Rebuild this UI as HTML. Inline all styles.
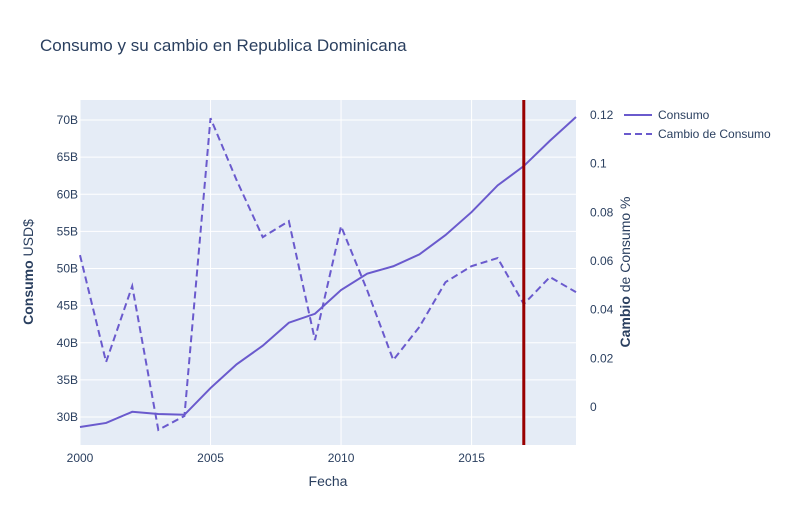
<!DOCTYPE html>
<html><head><meta charset="utf-8"><style>
body{margin:0;background:#fff;font-family:"Liberation Sans",sans-serif}
svg text{font-family:"Liberation Sans",sans-serif;fill:#2a3f5f}
</style></head><body>
<svg id="chart" width="800" height="525" xmlns="http://www.w3.org/2000/svg">
<rect width="800" height="525" fill="#fff"/>
<text x="40" y="51" font-size="17">Consumo y su cambio en Republica Dominicana</text>
<rect x="80" y="100" width="496" height="345" fill="#e5ecf6"/>
<g id="grid"></g><g id="axes"></g><g id="series"></g>
<text x="328" y="486" font-size="14" text-anchor="middle">Fecha</text>
<text transform="translate(33,272) rotate(-90)" font-size="14" text-anchor="middle"><tspan font-weight="bold">Consumo</tspan> USD$</text>
<text transform="translate(630,272) rotate(-90)" font-size="14" text-anchor="middle"><tspan font-weight="bold">Cambio</tspan> de Consumo %</text>
<g>
<g><line x1="624" y1="115" x2="652" y2="115" stroke="#6a5acd" stroke-width="2"/><text x="658" y="119" font-size="12">Consumo</text></g>
<g><line x1="624" y1="134" x2="652" y2="134" stroke="#6a5acd" stroke-width="2" stroke-dasharray="7,4"/><text x="658" y="138" font-size="12">Cambio de Consumo</text></g>
</g>
</svg>
<script>
const years=[2000,2001,2002,2003,2004,2005,2006,2007,2008,2009,2010,2011,2012,2013,2014,2015,2016,2017,2018,2019];
const consumo=[28.65,29.2,30.7,30.4,30.3,33.9,37.1,39.6,42.7,43.9,47.1,49.3,50.3,51.9,54.5,57.6,61.2,63.8,67.2,70.4];
const cambio=[0.0624,0.0185,0.0497,-0.0094,-0.0037,0.1187,0.0932,0.0698,0.0764,0.0275,0.0743,0.048,0.0193,0.0329,0.0513,0.0579,0.0612,0.0423,0.0534,0.0472];
const xTicks=[2000,2005,2010,2015];
const yLeftTicks=[30,35,40,45,50,55,60,65,70];
const yRightTicks=[0,0.02,0.04,0.06,0.08,0.1,0.12];
const markerYear=2017;
const NS="http://www.w3.org/2000/svg";
const x=v=>80+(v-2000)*(496/19);
const yL=v=>417-(v-30)*(297/40);
const yR=v=>407-v*(292/0.12);
function mk(tag,attrs,parent){const e=document.createElementNS(NS,tag);for(const k in attrs)e.setAttribute(k,attrs[k]);document.getElementById(parent).appendChild(e);return e;}
xTicks.forEach(t=>{
 const l=mk('line',{x1:x(t),x2:x(t),y1:100,y2:445,stroke:'#fff','stroke-width':1},'grid');
 
 
 const tx=mk('text',{x:x(t),y:462,'font-size':12,'text-anchor':'middle'},'axes');tx.textContent=t;
 
 
});
yLeftTicks.forEach(t=>{
 const l=mk('line',{x1:80,x2:576,y1:yL(t),y2:yL(t),stroke:'#fff','stroke-width':1},'grid');
 
 
 const tx=mk('text',{x:78,y:yL(t)+4,'font-size':12,'text-anchor':'end'},'axes');tx.textContent=t+'B';
 
 
});
yRightTicks.forEach(t=>{
 const tx=mk('text',{x:590,y:yR(t)+4,'font-size':12},'axes');tx.textContent=String(t);
 
 
});
const p1=mk('polyline',{points:years.map((y,i)=>x(y)+','+yL(consumo[i])).join(' '),fill:'none',stroke:'#6a5acd','stroke-width':2},'series');


const p2=mk('polyline',{points:years.map((y,i)=>x(y)+','+yR(cambio[i])).join(' '),fill:'none',stroke:'#6a5acd','stroke-width':2,'stroke-dasharray':'7,4'},'series');


const vl=mk('line',{x1:x(markerYear),x2:x(markerYear),y1:100,y2:445,stroke:'#990000','stroke-width':3},'series');


</script>
</body></html>
